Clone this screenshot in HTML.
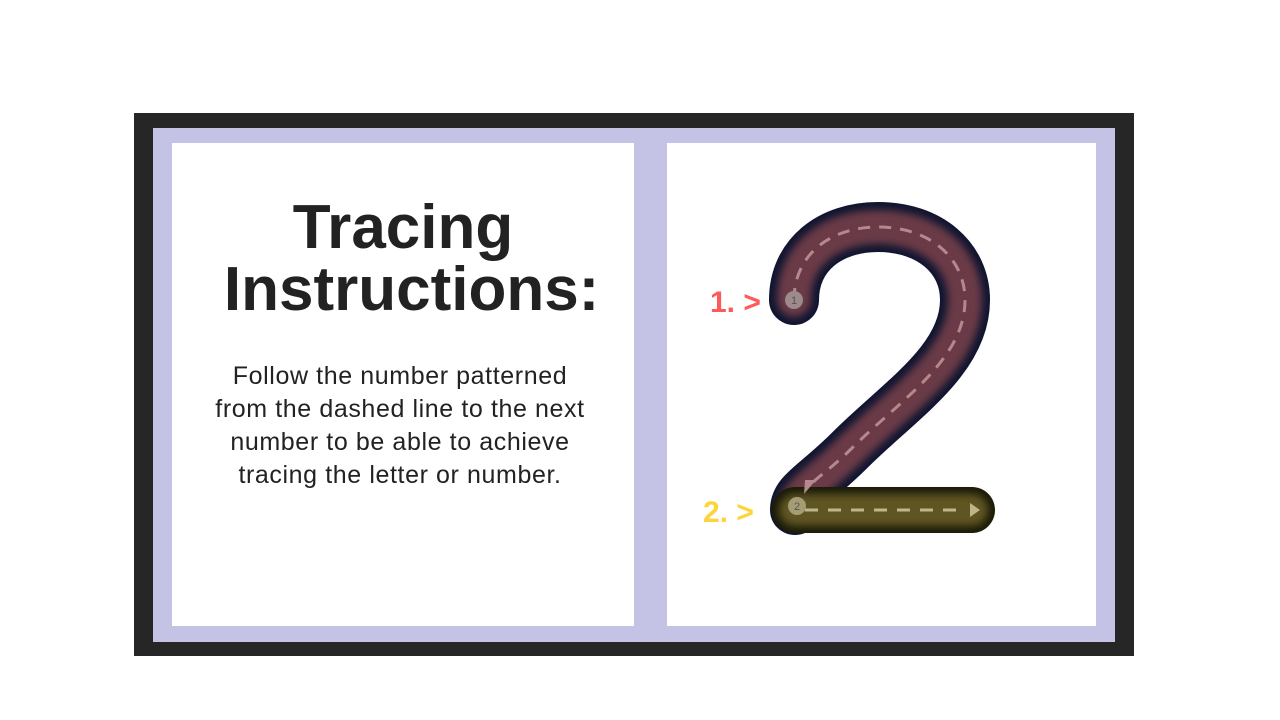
<!DOCTYPE html>
<html><head><meta charset="utf-8"><style>
body{margin:0;width:1280px;height:720px;background:#fff;position:relative;overflow:hidden;font-family:"Liberation Sans",sans-serif}
.frame{position:absolute;left:134px;top:113px;width:1000px;height:543px;background:#262626}
.inner{position:absolute;left:153px;top:128px;width:962px;height:514px;background:#c4c3e6}
.p1{position:absolute;left:172px;top:143px;width:462px;height:483px;background:#fff}
.p2{position:absolute;left:667px;top:143px;width:429px;height:483px;background:#fff}
h1{position:absolute;left:172px;top:197px;width:462px;margin:0;text-align:center;font-size:62px;line-height:62px;font-weight:bold;color:#222}
p{position:absolute;left:150px;top:360px;width:500px;margin:0;text-align:center;font-size:25px;line-height:33px;color:#222;letter-spacing:0.6px}
</style></head><body>
<div class="frame"></div>
<div class="inner"></div>
<div class="p1"></div>
<div class="p2"></div>
<h1>Tracing<br>&nbsp;Instructions:</h1>
<p>Follow the number patterned<br>from the dashed line to the next<br>number to be able to achieve<br>tracing the letter or number.</p>
<svg width="1280" height="720" style="position:absolute;left:0;top:0">
<defs><filter id="b" filterUnits="userSpaceOnUse" x="700" y="180" width="340" height="380"><feGaussianBlur stdDeviation="4"/></filter></defs>
<path d="M794,300 C794,255 830,227 878,227 C930,227 965,258 965,300 C965,360 900,400 850,450 C815,485 795,492 795,510" fill="none" stroke="#0f1530" stroke-width="50" stroke-linecap="round"/>
<path d="M794,300 C794,255 830,227 878,227 C930,227 965,258 965,300 C965,360 900,400 850,450 C815,485 795,492 795,510" fill="none" stroke="#6a3a46" stroke-width="34" stroke-linecap="round" filter="url(#b)"/>
<path d="M795,510 L972,510" stroke="#1a1a08" stroke-width="46" stroke-linecap="round"/>
<path d="M795,510 L972,510" stroke="#5e5422" stroke-width="32" stroke-linecap="round" filter="url(#b)"/>
<path d="M794,300 C794,255 830,227 878,227 C930,227 965,258 965,300 C965,360 900,400 850,450 C830,470 815,478 808,488" fill="none" stroke="#b58890" stroke-width="3" stroke-dasharray="12 9"/>
<path d="M805,510 L965,510" stroke="#bfb58a" stroke-width="3" stroke-dasharray="13 10"/>
<polygon points="804,494 816,480 805,480" fill="#b58890"/>
<polygon points="980,510 970,503 970,517" fill="#bfb58a"/>
<circle cx="794" cy="300" r="9" fill="#9c8a8c"/><text x="794" y="304" font-size="11" text-anchor="middle" fill="#555">1</text>
<circle cx="797" cy="506" r="9" fill="#a59c74"/><text x="797" y="510" font-size="11" text-anchor="middle" fill="#555">2</text>
<text x="710" y="312" font-size="30" font-weight="bold" fill="#ff5a5a">1. &gt;</text>
<text x="703" y="522" font-size="30" font-weight="bold" fill="#ffd43b">2. &gt;</text>
</svg>
</body></html>
